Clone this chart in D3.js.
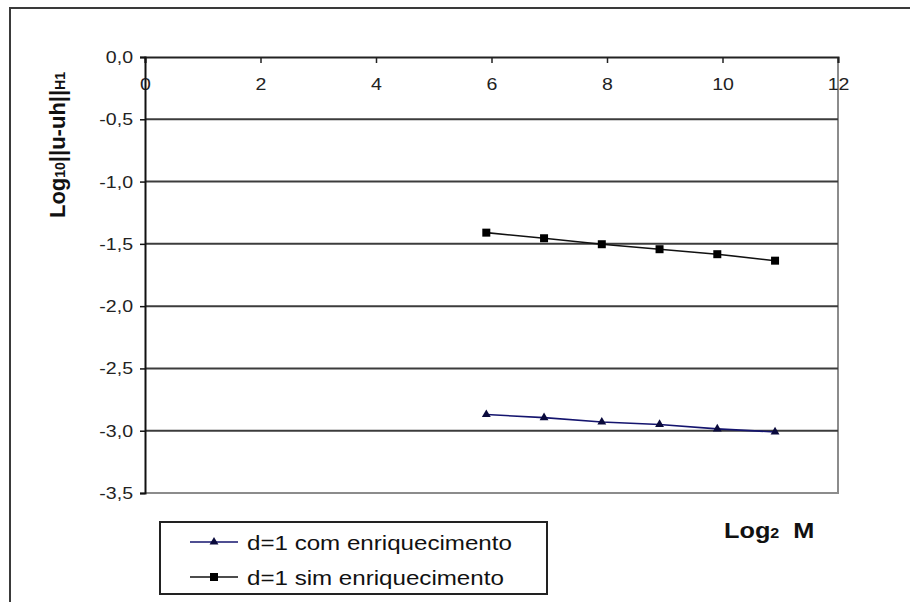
<!DOCTYPE html>
<html>
<head>
<meta charset="utf-8">
<script src="https://cdn.jsdelivr.net/npm/d3@7"></script>
<style>
  html, body { margin: 0; padding: 0; background: #fff; }
  svg { display: block; font-family: Arial, "Liberation Sans", sans-serif; }
</style>
</head>
<body>
<svg id="chart" width="910" height="602"></svg>
<script>
// Series: log2(M) against log10 of the H1 error
const log2M = [5.91, 6.91, 7.91, 8.91, 9.91, 10.91];
const errCom = [-2.87, -2.895, -2.93, -2.95, -2.985, -3.01];
const errSim = [-1.41, -1.455, -1.503, -1.543, -1.583, -1.635];
const seriesNames = ["d=1 com enriquecimento", "d=1 sim enriquecimento"];
const xTicks = [0, 2, 4, 6, 8, 10, 12];
const yTicks = [0, -0.5, -1, -1.5, -2, -2.5, -3, -3.5];

const svg = d3.select("#chart");
const SX = 1.15; // horizontal text stretch
const plotL = 145, plotR = 838, plotT = 57, plotB = 493;

const x = d3.scaleLinear().domain([0, 12]).range([plotL, plotR]);
const y = d3.scaleLinear().domain([-3.5, 0]).range([plotB, plotT]);

const loc = d3.formatLocale({decimal: ",", thousands: ".", grouping: [3], currency: ["", ""], minus: "-"});
const fmtY = loc.format(".1f");

// outer frame (top and left edges)
svg.append("path")
  .attr("d", "M10,602 L10,8 L910,8")
  .attr("fill", "none").attr("stroke", "#3a3a3a").attr("stroke-width", 2);

// plot area border (right and bottom)
svg.append("path")
  .attr("d", `M${plotR},${plotT} L${plotR},${plotB} L${plotL},${plotB}`)
  .attr("fill", "none").attr("stroke", "#8c8c8c").attr("stroke-width", 2);

// horizontal gridlines
svg.append("g").selectAll("line")
  .data(yTicks.filter(v => v < 0 && v > -3.5))
  .join("line")
  .attr("x1", plotL).attr("x2", plotR)
  .attr("y1", d => y(d)).attr("y2", d => y(d))
  .attr("stroke", "#3c3c3c").attr("stroke-width", 2);

// x axis along y = 0
const gx = svg.append("g")
  .attr("transform", `translate(0,${y(0)})`)
  .call(d3.axisBottom(x).tickValues(xTicks).tickSize(6).tickPadding(15).tickFormat(d3.format("d")));
gx.select(".domain").attr("stroke", "#222").attr("stroke-width", 2);
gx.selectAll(".tick line").attr("stroke", "#222").attr("stroke-width", 1.5);
gx.selectAll(".tick text")
  .attr("font-size", 17).attr("fill", "#222")
  .attr("font-family", "Arial, 'Liberation Sans', sans-serif")
  .attr("transform", `scale(${SX},1)`);

// y axis
const gy = svg.append("g")
  .attr("transform", `translate(${plotL},0)`)
  .call(d3.axisLeft(y).tickValues(yTicks).tickSize(5).tickPadding(0).tickFormat(fmtY));
gy.select(".domain").attr("stroke", "#111").attr("stroke-width", 2);
gy.selectAll(".tick line").attr("stroke", "#111").attr("stroke-width", 1.5);
gy.selectAll(".tick text")
  .attr("x", 0)
  .attr("font-size", 17).attr("fill", "#222")
  .attr("font-family", "Arial, 'Liberation Sans', sans-serif")
  .attr("transform", `translate(-12,0) scale(${SX},1)`);

// series
const line = d3.line().x(d => x(d[0])).y(d => y(d[1]));
const comData = log2M.map((v, i) => [v, errCom[i]]);
const simData = log2M.map((v, i) => [v, errSim[i]]);

const triangle = d3.symbol().type(d3.symbolTriangle).size(34);
const square = d3.symbol().type(d3.symbolSquare).size(64);

svg.append("path").datum(comData).attr("d", line)
  .attr("fill", "none").attr("stroke", "#14146e").attr("stroke-width", 1.6);
svg.append("g").selectAll("path").data(comData).join("path")
  .attr("d", triangle)
  .attr("transform", d => `translate(${x(d[0])},${y(d[1])})`)
  .attr("fill", "#0a0a3c");

svg.append("path").datum(simData).attr("d", line)
  .attr("fill", "none").attr("stroke", "#111").attr("stroke-width", 1.6);
svg.append("g").selectAll("path").data(simData).join("path")
  .attr("d", square)
  .attr("transform", d => `translate(${x(d[0])},${y(d[1])})`)
  .attr("fill", "#000");

// axis titles
const yTitle = svg.append("text")
  .attr("transform", "translate(65,145) rotate(-90)")
  .attr("text-anchor", "middle")
  .attr("font-size", 22).attr("font-weight", "bold").attr("fill", "#111");
yTitle.append("tspan").text("Log");
yTitle.append("tspan").attr("font-size", 14).text("10");
yTitle.append("tspan").text("||u-uh||");
yTitle.append("tspan").attr("font-size", 14).text("H1");

const xTitle = svg.append("text")
  .attr("transform", `translate(724,538) scale(${SX},1)`)
  .attr("font-size", 22).attr("font-weight", "bold").attr("fill", "#111");
xTitle.append("tspan").text("Log");
xTitle.append("tspan").attr("font-size", 14).text("2");
xTitle.append("tspan").attr("xml:space", "preserve").text("  M");

// legend
const lg = svg.append("g");
lg.append("rect")
  .attr("x", 160).attr("y", 522).attr("width", 387).attr("height", 72)
  .attr("fill", "#fff").attr("stroke", "#222").attr("stroke-width", 2);
const rows = [
  {name: seriesNames[0], y: 542, color: "#14146e", mark: "#0a0a3c", sym: triangle},
  {name: seriesNames[1], y: 577, color: "#111", mark: "#000", sym: square}
];
rows.forEach(r => {
  lg.append("line").attr("x1", 190).attr("x2", 238).attr("y1", r.y).attr("y2", r.y)
    .attr("stroke", r.color).attr("stroke-width", 1.6);
  lg.append("path").attr("d", r.sym).attr("transform", `translate(214,${r.y})`).attr("fill", r.mark);
  lg.append("text")
    .attr("transform", `translate(247,${r.y + 8}) scale(${SX},1)`)
    .attr("font-size", 21).attr("fill", "#111")
    .text(r.name);
});
</script>
</body>
</html>
